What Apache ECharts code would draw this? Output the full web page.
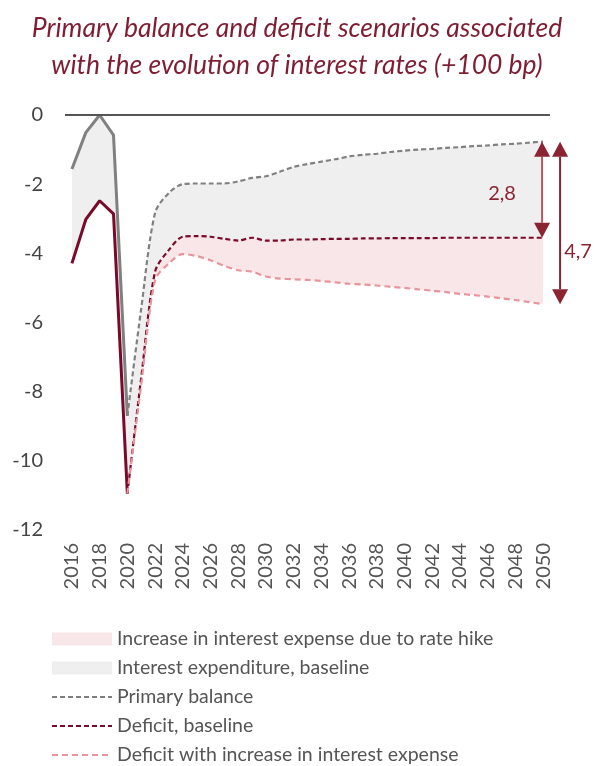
<!DOCTYPE html>
<html>
<head>
<meta charset="utf-8">
<style>
  html, body { margin: 0; padding: 0; background: #fff; }
  #chart { width: 594px; height: 766px; }
</style>
<script src="https://cdn.jsdelivr.net/npm/echarts@6/dist/echarts.min.js"></script>
</head>
<body>
<div id="chart"></div>
<script>
// Years on the horizontal axis
const years = [];
for (let y = 2016; y <= 2050; y++) years.push(String(y));

// Primary balance (% of GDP)
const primaryBalance = [
  -1.56, -0.51, 0.00, -0.58, -8.70, -5.60, -2.83, -2.25, -2.00, -1.98,
  -1.98, -1.98, -1.92, -1.82, -1.77, -1.64, -1.50, -1.42, -1.35, -1.28,
  -1.20, -1.15, -1.12, -1.07, -1.03, -1.00, -0.98, -0.95, -0.93, -0.90,
  -0.88, -0.85, -0.83, -0.80, -0.77
];

// Deficit, baseline
const deficitBaseline = [
  -4.29, -3.02, -2.48, -2.86, -10.95, -7.60, -4.53, -3.90, -3.52, -3.50,
  -3.52, -3.58, -3.63, -3.55, -3.63, -3.63, -3.60, -3.60, -3.59, -3.58,
  -3.58, -3.57, -3.57, -3.56, -3.56, -3.56, -3.56, -3.55, -3.55, -3.55,
  -3.55, -3.55, -3.55, -3.55, -3.55
];

// Deficit with increase in interest expense (projection only)
const deficitHike = [
  null, null, null, null, -10.95, -7.80, -4.77, -4.29, -4.02, -4.08,
  -4.20, -4.36, -4.49, -4.53, -4.67, -4.73, -4.75, -4.77, -4.80, -4.84,
  -4.88, -4.90, -4.93, -4.97, -5.00, -5.04, -5.08, -5.12, -5.17, -5.21,
  -5.25, -5.30, -5.35, -5.41, -5.47
];

// Y-axis ticks
const yTicks = { min: -12, max: 0, step: 2 };

// Index of the first projected year (2020)
const projStart = years.indexOf('2020');
const last = years.length - 1;

const histPart = arr => arr.map((v, i) => (i <= projStart ? v : null));
const projPart = arr => arr.map((v, i) => (i >= projStart ? v : null));
const round2 = v => Math.round(v * 100) / 100;

// Band series derived from the three curves
const histBase = histPart(deficitBaseline);
const histGrey = histPart(primaryBalance.map((v, i) => round2(v - deficitBaseline[i])));
const projBase = projPart(deficitHike);
const projPink = projPart(deficitBaseline.map((v, i) => deficitHike[i] == null ? null : round2(v - deficitHike[i])));
const projGrey = projPart(primaryBalance.map((v, i) => round2(v - deficitBaseline[i])));

const C = {
  grey: '#808080',
  wine: '#7a0a2c',
  pink: '#e8949d',
  greyFill: '#efefef',
  pinkFill: '#f9e6e8',
  accent: '#8b2332',
  accentSoft: '#b25868',
  text: '#555555'
};

const SMOOTH = 0.3;

// Gap annotations at the last year
const gapData = [
  [last, primaryBalance[last], deficitBaseline[last]],
  [last, primaryBalance[last], deficitHike[last]]
];
const fmt = v => v.toFixed(1).replace('.', ',');

function renderGap(params, api) {
  const i = params.dataIndex;
  const x0 = api.coord([api.value(0), 0])[0];
  const yTop = api.coord([api.value(0), api.value(1)])[1];
  const yBot = api.coord([api.value(0), api.value(2)])[1];
  const dx = i === 0 ? -1 : 17;
  const x = x0 + dx;
  const hw = 8, hh = 15;
  const shaft = i === 0 ? C.accentSoft : C.accent;
  const label = fmt(api.value(1) - api.value(2));
  const mid = (yTop + yBot) / 2;
  return {
    type: 'group',
    children: [
      { type: 'line', shape: { x1: x, y1: yTop + hh, x2: x, y2: yBot - hh },
        style: { stroke: shaft, lineWidth: 2 } },
      { type: 'polygon', shape: { points: [[x, yTop], [x - hw, yTop + hh], [x + hw, yTop + hh]] },
        style: { fill: C.accent } },
      { type: 'polygon', shape: { points: [[x, yBot], [x - hw, yBot - hh], [x + hw, yBot - hh]] },
        style: { fill: C.accent } },
      { type: 'text',
        x: i === 0 ? x - 40 : x + 18,
        y: i === 0 ? mid + 4 : mid + 29,
        style: { text: label, fill: C.accent, font: '20px Lato', align: 'center', verticalAlign: 'middle' } }
    ]
  };
}

const chart = echarts.init(document.getElementById('chart'), null, { renderer: 'canvas' });

const fillSeries = (name, data, stack, color) => ({
  name, type: 'line', data, stack, stackStrategy: 'all',
  smooth: stack === 'proj' ? SMOOTH : false,
  symbol: 'none', silent: true, z: 1,
  lineStyle: { width: 0, opacity: 0 },
  areaStyle: color ? { color, opacity: 1 } : undefined
});

const noSymbol = { opacity: 0 };

chart.setOption({
  animation: false,
  backgroundColor: '#ffffff',
  title: {
    text: 'Primary balance and deficit scenarios associated\nwith the evolution of interest rates (+100 bp)',
    left: 'center',
    top: 5,
    textStyle: {
      fontFamily: 'Lato', fontStyle: 'italic', fontWeight: 'normal',
      fontSize: 26.5, lineHeight: 37, color: '#7f1d33'
    }
  },
  grid: { left: 65, right: 44, top: 115, height: 415, containLabel: false },
  xAxis: {
    type: 'category',
    data: years,
    boundaryGap: true,
    axisLine: { show: false },
    axisTick: { show: false },
    axisLabel: {
      rotate: 90, interval: 1, margin: 13,
      fontFamily: 'Lato', fontSize: 20, color: C.text
    }
  },
  yAxis: {
    type: 'value',
    min: yTicks.min, max: yTicks.max, interval: yTicks.step,
    splitLine: { show: false },
    axisLine: { show: false },
    axisTick: { show: false },
    axisLabel: { margin: 22, fontFamily: 'Lato', fontSize: 20, color: '#444' }
  },
  legend: {
    orient: 'vertical',
    left: 46, top: 623, height: 160,
    itemWidth: 60, itemHeight: 13, itemGap: 7,
    selectedMode: false,
    textStyle: { fontFamily: 'Lato', fontSize: 19.5, lineHeight: 22, color: C.text },
    data: [
      { name: 'Increase in interest expense due to rate hike', icon: 'rect', itemStyle: { color: C.pinkFill } },
      { name: 'Interest expenditure, baseline', icon: 'rect', itemStyle: { color: C.greyFill } },
      { name: 'Primary balance', itemStyle: noSymbol },
      { name: 'Deficit, baseline', itemStyle: noSymbol },
      { name: 'Deficit with increase in interest expense', itemStyle: noSymbol }
    ]
  },
  series: [
    // Shaded bands (historical part)
    fillSeries('_histBase', histBase, 'hist', null),
    fillSeries('_histGrey', histGrey, 'hist', C.greyFill),
    // Shaded bands (projection)
    fillSeries('_projBase', projBase, 'proj', null),
    fillSeries('Increase in interest expense due to rate hike', projPink, 'proj', C.pinkFill),
    fillSeries('Interest expenditure, baseline', projGrey, 'proj', C.greyFill),

    // Historical solid lines
    { name: '_primaryHist', type: 'line', data: histPart(primaryBalance), symbol: 'none', z: 3,
      lineStyle: { color: C.grey, width: 3 },
      markLine: {
        silent: true, symbol: 'none', label: { show: false },
        lineStyle: { color: '#555', width: 2, type: 'solid' },
        data: [{ yAxis: 0 }]
      } },
    { name: '_deficitHist', type: 'line', data: histPart(deficitBaseline), symbol: 'none', z: 3,
      lineStyle: { color: C.wine, width: 3 } },

    // Projected dashed lines
    { name: 'Primary balance', type: 'line', data: projPart(primaryBalance), symbol: 'none', z: 4,
      smooth: SMOOTH, color: C.grey,
      lineStyle: { color: C.grey, width: 2.2, type: [5, 3] } },
    { name: 'Deficit, baseline', type: 'line', data: projPart(deficitBaseline), symbol: 'none', z: 4,
      smooth: SMOOTH, color: C.wine,
      lineStyle: { color: C.wine, width: 2.2, type: [5, 3] } },
    { name: 'Deficit with increase in interest expense', type: 'line', data: deficitHike, symbol: 'none', z: 4,
      smooth: SMOOTH, color: C.pink,
      lineStyle: { color: C.pink, width: 2.2, type: [6, 4] } },

    // Gap arrows at 2050
    { name: '_gaps', type: 'custom', data: gapData, renderItem: renderGap, clip: false, z: 6, silent: true,
      encode: { x: 0, y: [1, 2] } }
  ]
});
</script>
</body>
</html>
